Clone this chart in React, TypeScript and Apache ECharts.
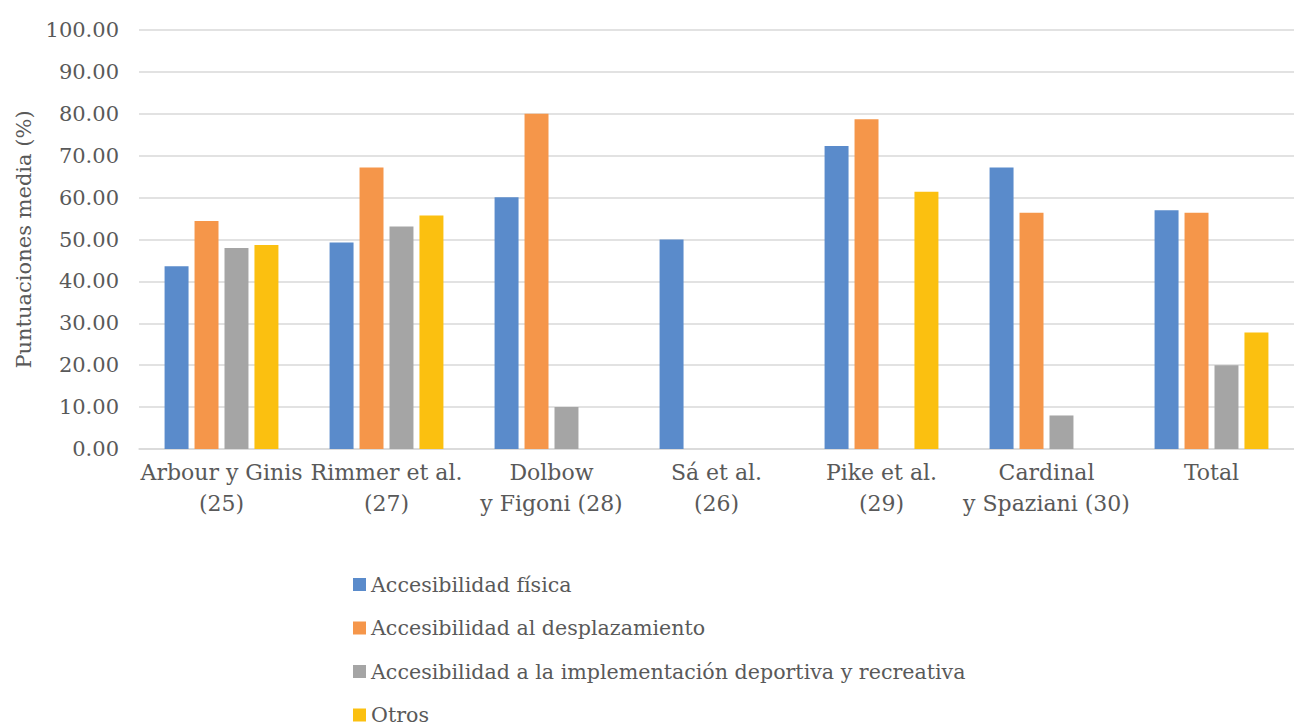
import React, { useEffect, useRef } from "react";
import * as echarts from "echarts";

const categories = [
  "Arbour y Ginis\n(25)",
  "Rimmer et al.\n(27)",
  "Dolbow\ny Figoni (28)",
  "Sá et al.\n(26)",
  "Pike et al.\n(29)",
  "Cardinal\ny Spaziani (30)",
  "Total",
];
const seriesNames = [
  "Accesibilidad física",
  "Accesibilidad al desplazamiento",
  "Accesibilidad a la implementación deportiva y recreativa",
  "Otros",
];
const fisica = [43.6, 49.3, 60.1, 50.0, 72.3, 67.2, 57.0];
const desplazamiento = [54.4, 67.2, 80.0, null, 78.7, 56.4, 56.4];
const implementacion = [48.0, 53.1, 10.0, null, null, 8.0, 20.0];
const otros = [48.7, 55.7, null, null, 61.4, null, 27.8];
const colors = ["#5A8BCB", "#F5964A", "#A5A5A5", "#FBC010"];

const FONT = "DejaVu Serif";

export default function App() {
  const ref = useRef<HTMLDivElement>(null);
  useEffect(() => {
    if (!ref.current) return;
    const chart = echarts.init(ref.current, null, { renderer: "svg" });
    const data = [fisica, desplazamiento, implementacion, otros];
    chart.setOption({
      animation: false,
      color: colors,
      textStyle: { fontFamily: FONT },
      grid: { left: 139, top: 30, width: 1166, height: 419 },
      legend: {
        orient: "vertical",
        left: 348,
        top: 569,
        height: 200,
        itemWidth: 13,
        itemHeight: 13,
        itemGap: 22.5,
        icon: "rect",
        textStyle: { fontFamily: FONT, fontSize: 20.6, color: "#595959", lineHeight: 20 },
        data: seriesNames,
      },
      xAxis: {
        type: "category",
        data: categories,
        axisTick: { show: false },
        axisLine: { lineStyle: { color: "#D9D9D9", width: 1.5 } },
        axisLabel: {
          color: "#595959",
          fontFamily: FONT,
          fontSize: 22,
          lineHeight: 31,
          margin: 8,
          interval: 0,
        },
      },
      yAxis: {
        type: "value",
        min: 0,
        max: 100,
        interval: 10,
        name: "Puntuaciones media (%)",
        nameLocation: "middle",
        nameGap: 104,
        nameTextStyle: { color: "#595959", fontFamily: FONT, fontSize: 21 },
        axisLabel: {
          color: "#595959",
          fontFamily: FONT,
          fontSize: 21,
          margin: 20,
          formatter: (v: number) => v.toFixed(2),
        },
        splitLine: { lineStyle: { color: "#D9D9D9", width: 1.5 } },
      },
      series: data.map((d, i) => ({
        name: seriesNames[i],
        type: "bar",
        data: d,
        barGap: "25%",
        barCategoryGap: "31%",
      })),
    });
    return () => chart.dispose();
  }, []);
  return (
    <div
      ref={ref}
      style={{ position: "fixed", left: 0, top: 0, width: 1294, height: 725, background: "#fff" }}
    />
  );
}
